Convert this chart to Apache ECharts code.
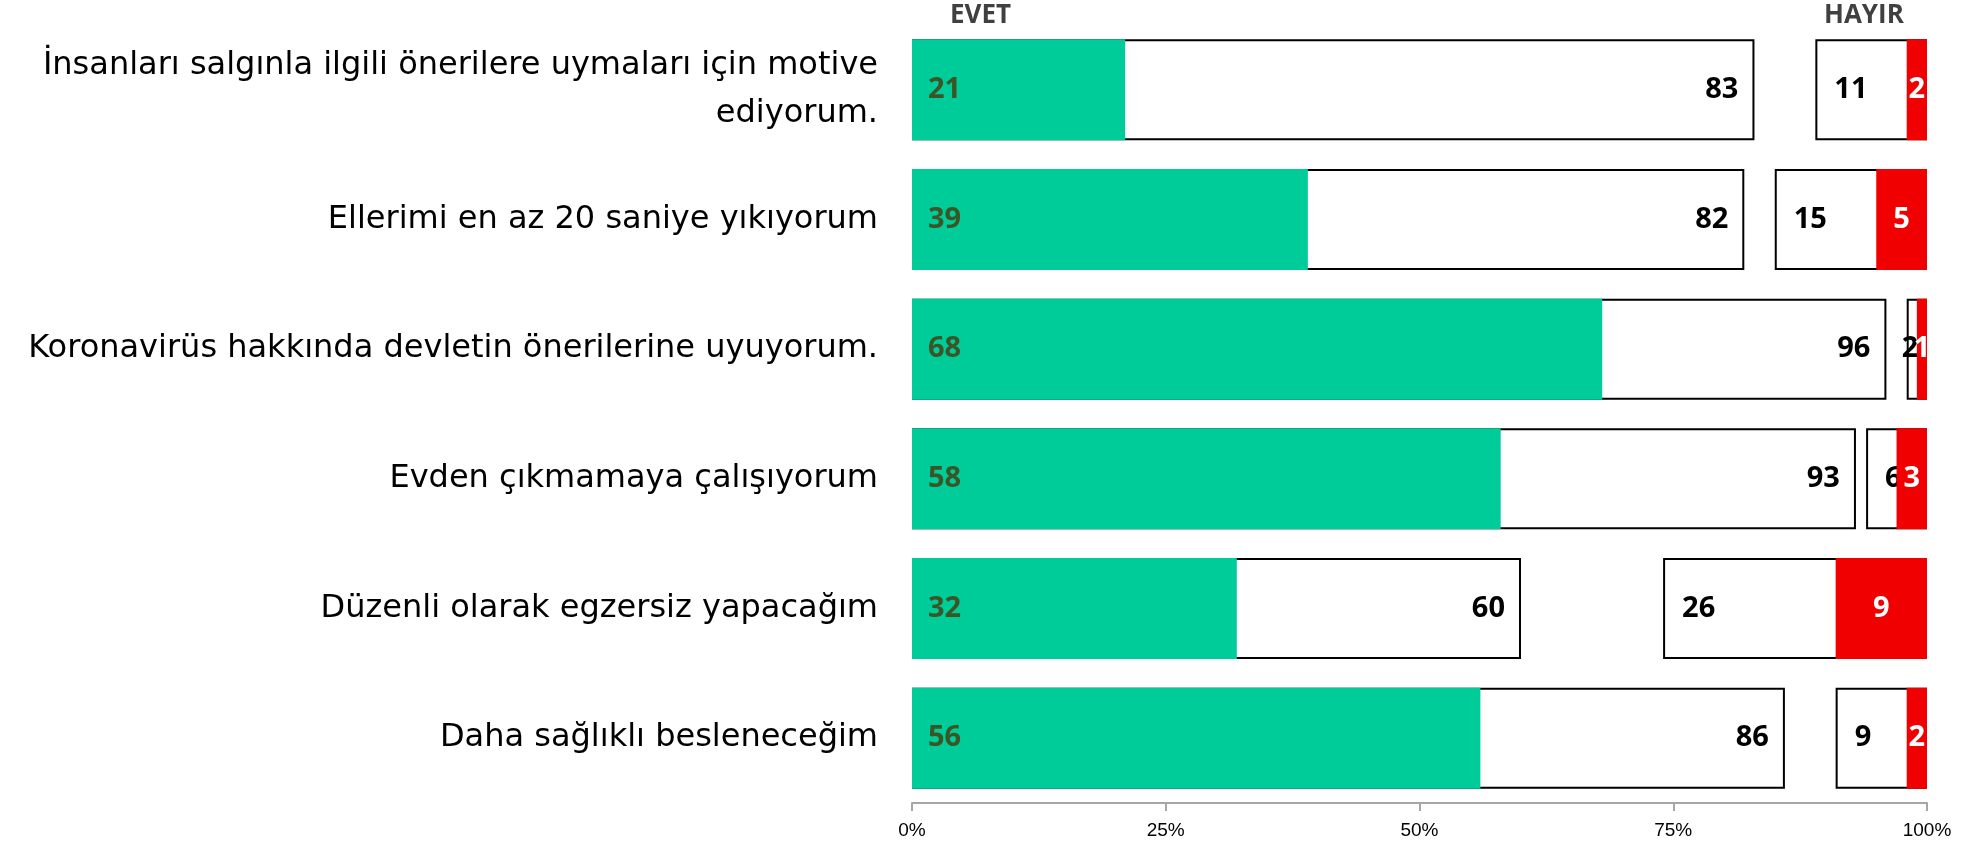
<!DOCTYPE html>
<html><head><meta charset="utf-8">
<script src="https://cdn.jsdelivr.net/npm/echarts@6/dist/echarts.min.js"></script>
<style>html,body{margin:0;padding:0;background:#fff}#c{width:1967px;height:845px}</style>
</head><body><div id="c"></div>
<script>
const categories = [
  'İnsanları salgınla ilgili önerilere uymaları için motive\nediyorum.',
  'Ellerimi en az 20 saniye yıkıyorum',
  'Koronavirüs hakkında devletin önerilerine uyuyorum.',
  'Evden çıkmamaya çalışıyorum',
  'Düzenli olarak egzersiz yapacağım',
  'Daha sağlıklı besleneceğim'
];
const evetTotal = [83, 82, 96, 93, 60, 86];
const evetStrong = [21, 39, 68, 58, 32, 56];
const hayirTotal = [11, 15, 2, 6, 26, 9];
const hayirStrong = [2, 5, 1, 3, 9, 2];
const xTicks = [0, 25, 50, 75, 100];
const headers = ['EVET', 'HAYIR'];

const FULL = 100;
const labelFont = 'Open Sans';
const BW = 101;
const common = { type: 'bar', barWidth: BW, barGap: '-100%', animation: false };

const chart = echarts.init(document.getElementById('c'), null, { renderer: 'canvas' });
chart.setOption({
  backgroundColor: '#fff',
  animation: false,
  grid: { left: 912, right: 40, top: 25, bottom: 42, containLabel: false },
  xAxis: {
    type: 'value', min: xTicks[0], max: xTicks[xTicks.length - 1], interval: xTicks[1] - xTicks[0],
    axisLine: { show: true, lineStyle: { color: '#a6a6a6', width: 2 } },
    axisTick: { show: true, length: 8, lineStyle: { color: '#a6a6a6', width: 2 } },
    splitLine: { show: false },
    axisLabel: { formatter: '{value}%', fontSize: 19, color: '#000', margin: 18, fontFamily: 'Liberation Sans' }
  },
  yAxis: {
    type: 'category', data: categories, inverse: true,
    axisLine: { show: false }, axisTick: { show: false },
    axisLabel: { fontSize: 32, color: '#000', margin: 34, lineHeight: 48, fontFamily: 'DejaVu Sans', align: 'right' }
  },
  graphic: [
    { type: 'text', left: 950, top: 3, style: { text: headers[0], font: 'bold 26px "Open Sans"', fill: '#404040' } },
    { type: 'text', left: 1824, top: 3, style: { text: headers[1], font: 'bold 26px "Open Sans"', fill: '#404040' } }
  ],
  series: [
    Object.assign({}, common, {
      name: 'evetTotal', data: evetTotal,
      itemStyle: { color: '#fff', borderColor: '#000', borderWidth: 2 },
      label: { show: true, position: 'insideRight', distance: 16, color: '#000', fontWeight: 'bold', fontSize: 29, fontFamily: labelFont }
    }),
    Object.assign({}, common, {
      name: 'evetStrong', data: evetStrong,
      itemStyle: { color: '#00cc99' },
      label: { show: true, position: 'insideLeft', distance: 16, color: '#3b5527', fontWeight: 'bold', fontSize: 29, fontFamily: labelFont }
    }),
    Object.assign({}, common, {
      name: 'hayirBase', stack: 'h', data: hayirTotal.map(v => FULL - v), silent: true,
      itemStyle: { color: 'transparent' }, label: { show: false }
    }),
    Object.assign({}, common, {
      name: 'hayirTotal', stack: 'h',
      data: hayirTotal.map(v => v < 4 ? { value: v, label: { position: 'insideLeft', distance: 0, offset: [-5, 0] } } : v),
      itemStyle: { color: '#fff', borderColor: '#000', borderWidth: 2 },
      label: { show: true, position: 'insideLeft', distance: 19, color: '#000', fontWeight: 'bold', fontSize: 29, fontFamily: labelFont }
    }),
    Object.assign({}, common, {
      name: 'redBase', stack: 'r', data: hayirStrong.map(v => FULL - v), silent: true,
      itemStyle: { color: 'transparent' }, label: { show: false }
    }),
    Object.assign({}, common, {
      name: 'hayirStrong', stack: 'r', data: hayirStrong, z: 5,
      itemStyle: { color: '#f00000' },
      label: { show: true, position: 'inside', color: '#fff', fontWeight: 'bold', fontSize: 29, fontFamily: labelFont }
    })
  ]
});
</script>
</body></html>
